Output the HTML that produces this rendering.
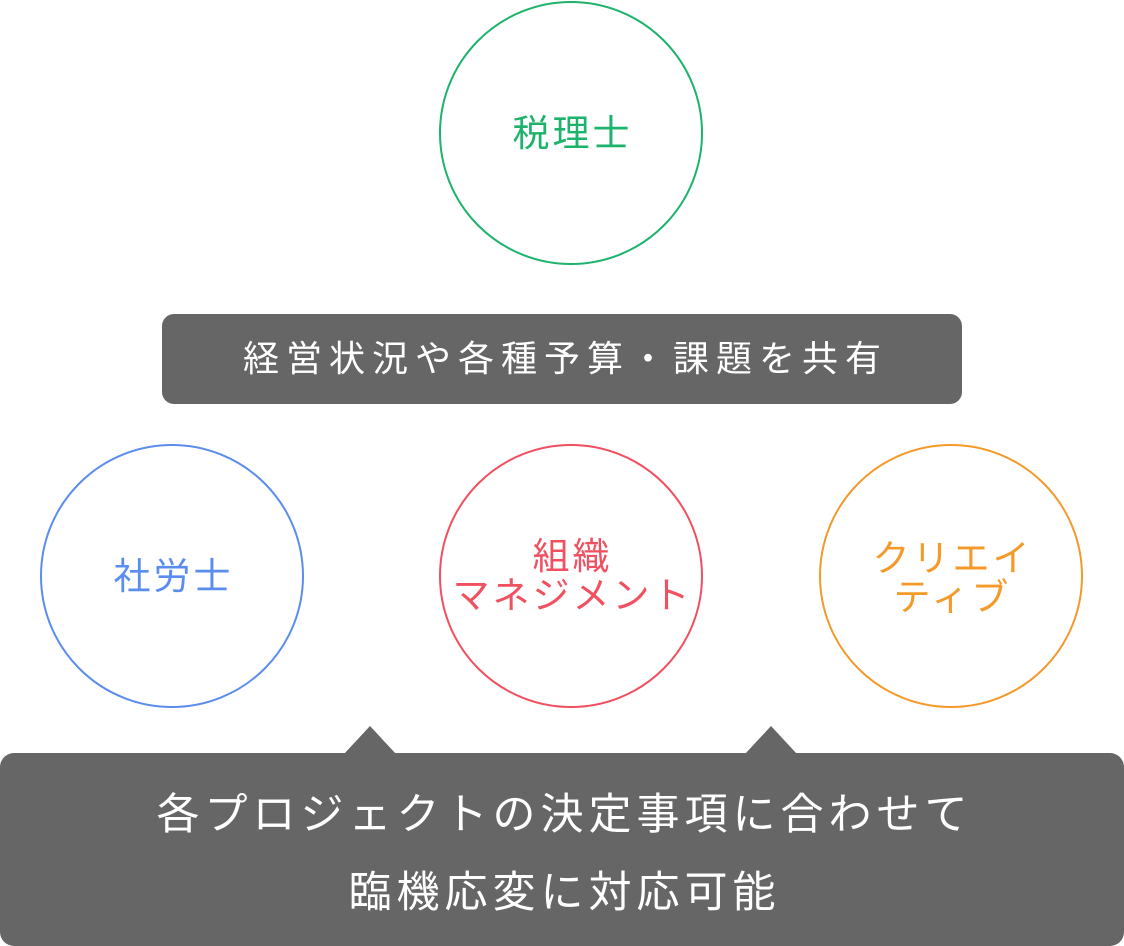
<!DOCTYPE html>
<html><head><meta charset="utf-8"><style>
body{margin:0;width:1124px;height:946px;background:#fff;position:relative;overflow:hidden;font-family:"Liberation Sans","Noto Sans CJK JP",sans-serif;}
.c{position:absolute;width:264px;height:264px;border-radius:50%;box-sizing:border-box;border:2px solid;display:flex;align-items:center;justify-content:center;text-align:center;font-size:37px;letter-spacing:3px;line-height:39px;font-weight:400;}
.t{position:absolute;color:#fff;text-align:center;white-space:nowrap;font-weight:400;}
</style></head><body>
<div class="c" style="left:439px;top:1px;border-color:#1db36b;color:#1db36b;padding-left:3px;">税理士</div>
<div style="position:absolute;left:162px;top:314px;width:800px;height:90px;background:#666;border-radius:12px;"></div>
<div class="t" style="left:162px;width:800px;top:336px;font-size:36px;letter-spacing:7px;line-height:46px;padding-left:7px;box-sizing:border-box;">経営状況や各種予算・課題を共有</div>
<div class="c" style="left:40px;top:444px;border-color:#5b8def;color:#5b8def;padding-left:3px;">社労士</div>
<div class="c" style="left:439px;top:444px;border-color:#f0505f;color:#f0505f;padding-left:3px;">組織<br>マネジメント</div>
<div class="c" style="left:819px;top:444px;border-color:#f39a2b;color:#f39a2b;padding-top:4px;padding-left:3px;">クリエイ<br>ティブ</div>
<svg style="position:absolute;left:0;top:0" width="1124" height="946">
<polygon points="344,754 370,726 396,754" fill="#666"/>
<polygon points="745,754 771,726 797,754" fill="#666"/>
</svg>
<div style="position:absolute;left:0;top:753px;width:1124px;height:193px;background:#666;border-radius:14px;"></div>
<div class="t" style="left:0;width:1124px;top:776px;font-size:43px;letter-spacing:5px;line-height:78px;padding-left:5px;box-sizing:border-box;">各プロジェクトの決定事項に合わせて<br>臨機応変に対応可能</div>
</body></html>
